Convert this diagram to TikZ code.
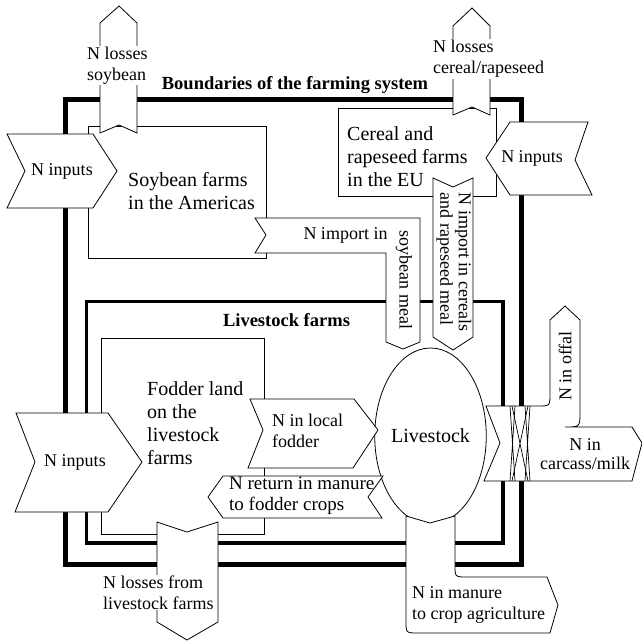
\documentclass[tikz,border=0pt]{standalone}
\usepackage{fontspec}
\setmainfont{Liberation Serif}
\usetikzlibrary{shapes.geometric}
\begin{document}
\begin{tikzpicture}[x=1pt,y=-1pt,
  thinln/.style={draw=black, line width=0.8pt},
  arr/.style={draw=black, fill=white, line width=0.8pt, line join=miter},
  bigtxt/.style={font=\fontsize{20}{23}\selectfont, align=left, inner sep=0pt},
  lab/.style={font=\fontsize{18}{21}\selectfont, inner sep=0pt},
  ttl/.style={font=\bfseries\fontsize{18.5}{22}\selectfont, inner sep=0pt},
  hatch/.style={draw=black, line width=0.7pt}]
\useasboundingbox (0,0) rectangle (642,643);
\fill[white] (0,0) rectangle (642,643);

% system boundaries
\draw[line width=5pt] (65.5,99) rectangle (521.5,564.5);
\draw[line width=3.5pt] (86.5,301.5) rectangle (503,543);

% farm boxes
\draw[thinln] (88,126) rectangle (266,258);
\draw[thinln] (338,108) rectangle (496,196);
\draw[thinln] (101,338) rectangle (264,534);

% livestock
\node[thinln, ellipse, minimum width=105pt, minimum height=176pt, inner sep=0pt,
      font=\fontsize{20}{23}\selectfont] (live) at (430.5,436) {Livestock};

% arrows
\draw[arr] (7,134) -- (93,134) -- (117,171) -- (93,208) -- (7,208) -- (25,171) -- cycle;
\draw[arr] (100,133) -- (119,125) -- (137,133) -- (137,23) -- (119,6) -- (100,23) -- cycle;
\draw[arr] (453,115) -- (472,107) -- (490,115) -- (490,26) -- (472,8) -- (453,26) -- cycle;
\draw[arr] (486,158) -- (510,122) -- (588,122) -- (575,160) -- (592,195) -- (510,195) -- cycle;
\draw[arr] (255,218) -- (420,218) -- (420,342) -- (403,349) -- (386,342) -- (386,253) -- (255,253) -- (266,235) -- cycle;
\draw[arr] (433,178) -- (453,187) -- (473,178) -- (473,337) -- (453,350) -- (433,337) -- cycle;
\draw[arr] (16,413) -- (108,413) -- (142,462) -- (108,512) -- (15,512) -- (35,462) -- cycle;
\draw[arr] (250,399) -- (354,399) -- (378,430) -- (353,468) -- (248,468) -- (263,430) -- cycle;
\draw[arr] (208,497) -- (223,476) -- (383,476) -- (368,497) -- (382,518) -- (223,518) -- cycle;
\draw[arr] (157,522) -- (187,532) -- (218,522) -- (218,622) -- (187,640) -- (157,622) -- cycle;
\draw[arr] (406,516) -- (430,523) -- (455,516) -- (455,565) .. controls (455,577) .. (467,577)
  -- (547,577) -- (558,605) -- (550,633) -- (418,633) .. controls (406,633) .. (406,621) -- cycle;
\draw[arr] (486,406) -- (538,406) .. controls (550,406) .. (550,394) -- (550,320) -- (565,306)
  -- (580,320) -- (580,412) .. controls (580,427) .. (565,427) -- (632,427) -- (642,443)
  -- (632,481) -- (484,481) -- (500,443) -- cycle;

% crossing of the boundaries
\draw[hatch] (510,406) -- (515,481) (515,406) -- (510,481);
\draw[hatch] (525,406) -- (530,481) (530,406) -- (525,481);
\draw[hatch] (512,406) -- (528,481) (528,406) -- (512,481);

% titles
\node[ttl] (tsys) at (295,85) {Boundaries of the farming system};
\node[ttl] (tlive) at (286.5,320) {Livestock farms};

% box texts
\node[bigtxt, anchor=west] (soy) at (128,191.5) {Soybean farms\\in the Americas};
\node[bigtxt, anchor=west] (cer) at (347,157) {Cereal and\\rapeseed farms\\in the EU};
\node[bigtxt, anchor=west] (fod) at (147,423) {Fodder land\\on the\\livestock\\farms};

% labels
\node[lab] (in1) at (62,171) {N inputs};
\node[lab, anchor=west, align=left, fill=white, inner sep=1pt] (ls) at (86,65.5) {N losses\\soybean};
\node[lab, anchor=west, align=left, fill=white, inner sep=1pt] (lc) at (432,59) {N losses\\cereal/rapeseed};
\node[lab] (in2) at (532,158) {N inputs};
\node[lab] (imp1) at (345.5,235) {N import in};
\node[lab, rotate=-90] (imp2) at (404,280) {soybean meal};
\node[lab, rotate=-90, align=left, font=\fontsize{18}{18.5}\selectfont] (imp3) at (454,262) {N import in cereals\\and rapeseed meal};
\node[lab] (in3) at (75,462) {N inputs};
\node[lab, anchor=west, align=left] (loc) at (272,431) {N in local\\fodder};
\node[lab, anchor=west, align=left, font=\fontsize{19}{21}\selectfont] (ret) at (229,495.5) {N return in manure\\to fodder crops};
\node[lab, anchor=west, align=left, fill=white, inner sep=1pt] (llv) at (102,592.5) {N losses from\\livestock farms};
\node[lab, anchor=west, align=left, font=\fontsize{18}{20.5}\selectfont] (man) at (412,605) {N in manure\\to crop agriculture};
\node[lab, rotate=90] (off) at (565,366) {N in offal};
\node[lab, align=center, font=\fontsize{18}{19}\selectfont] (car) at (585,454) {N in\\carcass/milk};
\end{tikzpicture}
\end{document}
